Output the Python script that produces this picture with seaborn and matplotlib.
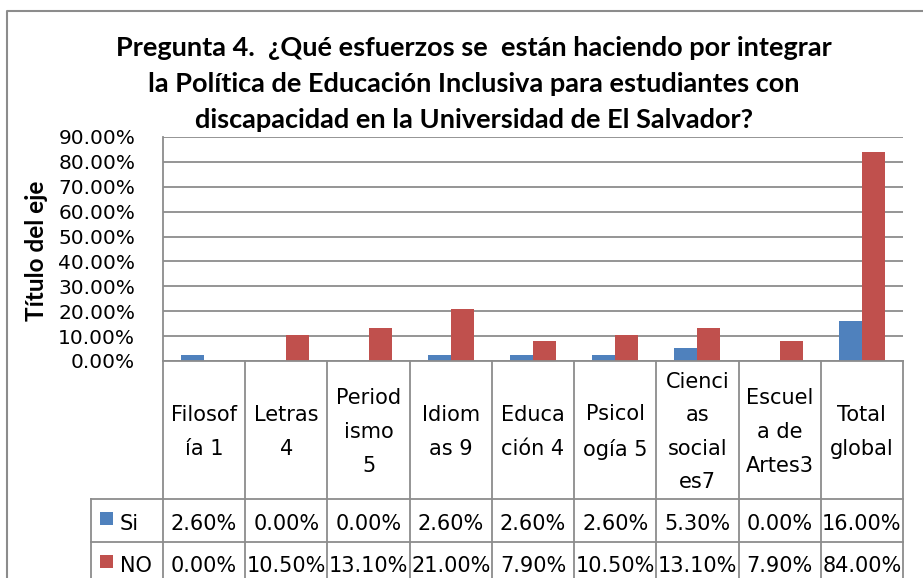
import matplotlib
matplotlib.use("Agg")
import matplotlib.pyplot as plt
import matplotlib.transforms as mtransforms
from matplotlib.lines import Line2D
from matplotlib.patches import Rectangle
import seaborn as sns
import pandas as pd

# ---- data ----
categories = ["Filosofía 1", "Letras 4", "Periodismo 5", "Idiomas 9", "Educación 4",
              "Psicología 5", "Ciencias sociales7", "Escuela de Artes3", "Total global"]
header_labels = ["Filosof\nía 1", "Letras\n4", "Period\nismo\n5", "Idiom\nas 9", "Educa\nción 4",
                 "Psicol\nogía 5", "Cienci\nas\nsocial\nes7", "Escuel\na de\nArtes3", "Total\nglobal"]
series_names = ["Si", "NO"]
si_values = [2.60, 0.00, 0.00, 2.60, 2.60, 2.60, 5.30, 0.00, 16.00]
no_values = [0.00, 10.50, 13.10, 21.00, 7.90, 10.50, 13.10, 7.90, 84.00]
y_ticks = [0, 10, 20, 30, 40, 50, 60, 70, 80, 90]
title = ("Pregunta 4.  ¿Qué esfuerzos se  están haciendo por integrar\n"
         "la Política de Educación Inclusiva para estudiantes con\n"
         "discapacidad en la Universidad de El Salvador?")
y_label = "Título del eje"

colors = {"Si": "#4F81BD", "NO": "#C0504D"}
grid_col = "#8C8C8C"

df = pd.DataFrame({
    "cat": categories * 2,
    "serie": ["Si"] * len(categories) + ["NO"] * len(categories),
    "val": si_values + no_values,
})

W, H = 923, 578
fig = plt.figure(figsize=(W / 100, H / 100), dpi=100)
fig.patch.set_facecolor("white")

def fx(x):
    return x / W

def fy(y):
    return 1 - y / H

x0, x1, ytop, ybot = 163, 903, 137, 361
ax = fig.add_axes([fx(x0), fy(ybot), fx(x1 - x0), (ybot - ytop) / H])

sns.barplot(data=df, x="cat", y="val", hue="serie", hue_order=series_names,
            palette=colors, saturation=1, width=0.56, linewidth=0, ax=ax, legend=False,
            order=categories)

ax.set_xlim(-0.5, len(categories) - 0.5)
ax.set_ylim(0, 90)
ax.set_yticks(y_ticks)
ax.set_yticklabels([f"{v:.2f}%" for v in y_ticks], fontsize=14.5, family="DejaVu Sans")
ax.tick_params(axis="y", length=0, pad=20)
ax.tick_params(axis="x", length=0, labelbottom=False)
ax.set_xlabel("")
ax.set_ylabel("")
ax.yaxis.grid(True, color=grid_col, linewidth=1.3)
ax.set_axisbelow(True)
for s in ["top", "right"]:
    ax.spines[s].set_visible(False)
for s in ["left", "bottom"]:
    ax.spines[s].set_color(grid_col)
    ax.spines[s].set_linewidth(1.3)

# ---- data table ----
tr = mtransforms.blended_transform_factory(ax.transData, fig.transFigure)
n = len(categories)
leg_left = -0.5 - (x0 - 91) / ((x1 - x0) / n)
y_hdr, y_si, y_no, y_end = 499, 542, 585, 600
lw = 1.3
for i in range(n + 1):
    fig.add_artist(Line2D([i - 0.5, i - 0.5], [fy(ybot), fy(y_end)], transform=tr,
                          color=grid_col, lw=lw, clip_on=False))
fig.add_artist(Line2D([leg_left, leg_left], [fy(y_hdr), fy(y_end)], transform=tr,
                      color=grid_col, lw=lw, clip_on=False))
for yy in (y_hdr, y_si, y_no):
    fig.add_artist(Line2D([leg_left, n - 0.5], [fy(yy), fy(yy)], transform=tr,
                          color=grid_col, lw=lw, clip_on=False))

tfont = dict(fontsize=15, family="DejaVu Sans", color="black")
for i, lab in enumerate(header_labels):
    fig.text(i, fy((ybot + y_hdr) / 2 + 2), lab, transform=tr, ha="center", va="center",
             linespacing=1.85, **tfont)
for row_vals, yc in ((si_values, (y_hdr + y_si) / 2), (no_values, (y_si + y_no) / 2)):
    for i, v in enumerate(row_vals):
        fig.text(i, fy(yc + 3), f"{v:.2f}%", transform=tr, ha="center", va="center", **tfont)

# legend keys in table
for name, yc in (("Si", (y_hdr + y_si) / 2), ("NO", (y_si + y_no) / 2)):
    fig.add_artist(Rectangle((fx(100), fy(yc + 4)), fx(13), 13 / H, transform=fig.transFigure,
                             facecolor=colors[name], edgecolor="none"))
    fig.text(fx(120), fy(yc + 3), name, ha="left", va="center", **tfont)

# ---- title and axis label ----
fig.text(fx(474), fy(84), title, ha="center", va="center", fontsize=19.5,
         family="Lato", fontweight="bold", linespacing=1.6)
fig.text(fx(36), fy(251), y_label, ha="center", va="center", rotation=90,
         fontsize=17.5, family="Lato", fontweight="bold")

# chart border
fig.add_artist(Line2D([fx(7), fx(7), fx(930)], [fy(600), fy(11), fy(11)],
                      transform=fig.transFigure, color=grid_col, lw=1.5))

fig.savefig("out.png", dpi=100)
